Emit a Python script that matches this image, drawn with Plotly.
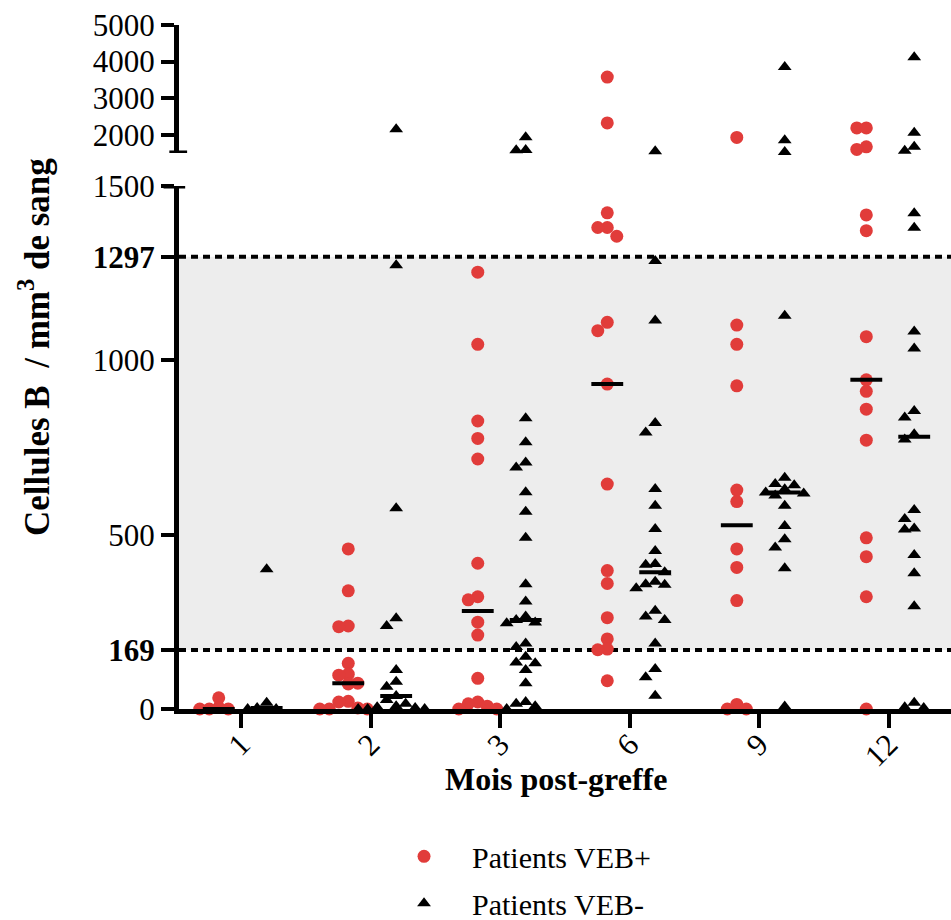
import numpy as np
import plotly.graph_objects as go

# Months after transplant (x categories)
months = ["1", "2", "3", "6", "9", "12"]

# B cells / mm3 of blood, EBV-positive patients, per month
pos_m1 = [32, 4, 0, 0, 0]
pos_m2 = [459, 339, 238, 236, 131, 100, 97, 74, 72, 22, 20, 3, 0, 0, 0]
pos_m3 = [1253, 1046, 826, 776, 717, 418, 322, 313, 249, 212, 88, 20, 15, 8, 0, 0]
pos_m6 = [3576, 2322, 1423, 1381, 1381, 1356, 1109, 1085, 932, 645, 397, 360,
          262, 201, 172, 170, 81]
pos_m9 = [1924, 1101, 1046, 927, 628, 595, 459, 406, 311, 13, 0, 0]
pos_m12 = [2185, 2185, 1667, 1596, 1417, 1372, 1068, 944, 911, 860, 771, 491,
           437, 322, 0]

# B cells / mm3 of blood, EBV-negative patients, per month
neg_m1 = [401, 18, 3, 0, 0]
neg_m2 = [2150, 1273, 576, 260, 238, 112, 78, 64, 37, 26, 15, 8, 5, 3, 0, 0, 0]
neg_m3 = [1930, 1580, 1575, 834, 765, 707, 693, 622, 566, 491, 358, 308, 265,
          255, 248, 246, 188, 178, 150, 133, 131, 112, 74, 20, 15, 8, 0]
neg_m6 = [1550, 1285, 1114, 820, 793, 631, 583, 516, 453, 416, 414, 392, 365,
          358, 356, 346, 282, 265, 255, 188, 115, 91, 38]
neg_m9 = [3850, 1850, 1530, 1128, 663, 645, 642, 630, 621, 618, 612, 583, 525,
          487, 463, 404, 7]
neg_m12 = [4120, 2050, 1667, 1560, 1422, 1380, 1083, 1034, 855, 836, 788, 773,
           571, 545, 518, 515, 442, 389, 295, 18, 5, 3]

veb_pos = [pos_m1, pos_m2, pos_m3, pos_m6, pos_m9, pos_m12]
veb_neg = [neg_m1, neg_m2, neg_m3, neg_m6, neg_m9, neg_m12]

# Reference range of normal values
normal_low = 169
normal_high = 1297

# Axis ticks
low_ticks = [0, 169, 500, 1000, 1297, 1500]
low_ticktext = ["0", "<b>169</b>", "500", "1000", "<b>1297</b>", "1500"]
high_ticks = [2000, 3000, 4000, 5000]
high_ticktext = ["2000", "3000", "4000", "5000"]

# ---------------------------------------------------------------- layout
W, H = 951, 920
M_L, M_R, M_T, M_B = 179, 0, 25, 211
PLOT_W = W - M_L - M_R
PLOT_H = H - M_T - M_B
X_RANGE = [-0.4788, 5.482]
BREAK = 1500
LOW_RANGE = [0, BREAK]
HIGH_RANGE = [BREAK, 5000]
LOW_DOM = [0.0, 0.7646]
HIGH_DOM = [0.8129, 1.0]

RED = "#E13C3A"
FONT = "Liberation Serif"

px_per_x = PLOT_W / (X_RANGE[1] - X_RANGE[0])


def value_to_px(v):
    """Vertical pixel position (from the plot bottom) of a value on the broken axis."""
    if v <= BREAK:
        frac = (v - LOW_RANGE[0]) / (LOW_RANGE[1] - LOW_RANGE[0])
        return (LOW_DOM[0] + frac * (LOW_DOM[1] - LOW_DOM[0])) * PLOT_H
    frac = (v - HIGH_RANGE[0]) / (HIGH_RANGE[1] - HIGH_RANGE[0])
    return (HIGH_DOM[0] + frac * (HIGH_DOM[1] - HIGH_DOM[0])) * PLOT_H


def column_scatter(values, center, step_px=9.5, min_dist=9.5):
    """Spread points of one column sideways so that markers do not pile up."""
    order = np.argsort(values)[::-1]
    placed = []
    xs = np.zeros(len(values))
    for i in order:
        ypx = value_to_px(values[i])
        for k in [0, -1, 1, -2, 2, -3, 3, -4, 4]:
            xpx = k * step_px
            if all(np.hypot(xpx - px, ypx - py) >= min_dist for px, py in placed):
                break
        placed.append((xpx, ypx))
        xs[i] = center + xpx / px_per_x
    return xs


def build_traces(groups, offset, name, color, symbol, size):
    xl, yl, xh, yh, mx, my = [], [], [], [], [], []
    for idx, vals in enumerate(groups):
        center = idx + offset
        xs = column_scatter(vals, center)
        for x, v in zip(xs, vals):
            if v <= BREAK:
                xl.append(x)
                yl.append(v)
            else:
                xh.append(x)
                yh.append(v)
        med = float(np.median(vals))
        mx += [center - 0.123, center + 0.123, None]
        my += [med, med, None]
    marker = dict(color=color, symbol=symbol, size=size, line=dict(width=0))
    low = go.Scatter(x=xl, y=yl, mode="markers", marker=marker, name=name,
                     xaxis="x", yaxis="y", cliponaxis=False, showlegend=True,
                     legendgroup=name)
    high = go.Scatter(x=xh, y=yh, mode="markers", marker=marker, name=name,
                      xaxis="x", yaxis="y2", cliponaxis=False, showlegend=False,
                      legendgroup=name)
    med = go.Scatter(x=mx, y=my, mode="lines", line=dict(color="black", width=4),
                     xaxis="x", yaxis="y", showlegend=False, hoverinfo="skip",
                     cliponaxis=False)
    return [low, high], med


pos_traces, pos_med = build_traces(veb_pos, -0.172, "Patients VEB+", RED, "circle", 13)
neg_traces, neg_med = build_traces(veb_neg, 0.198, "Patients VEB-", "black", "triangle-up", 12)

fig = go.Figure(pos_traces + neg_traces + [pos_med, neg_med])

axis_common = dict(showline=True, linewidth=5, linecolor="black", ticks="outside",
                   tickwidth=4, tickcolor="black", showgrid=False, zeroline=False,
                   automargin=False,
                   tickfont=dict(family=FONT, size=31, color="black"))

fig.update_layout(
    width=W, height=H,
    margin=dict(l=M_L, r=M_R, t=M_T, b=M_B, autoexpand=False),
    paper_bgcolor="white", plot_bgcolor="white",
    font=dict(family=FONT, color="black"),
    xaxis=dict(range=X_RANGE, tickvals=list(range(len(months))), ticktext=months,
               tickangle=-45, ticklen=14, ticklabelstandoff=-14, anchor="y",
               **axis_common),
    yaxis=dict(domain=LOW_DOM, range=LOW_RANGE, tickvals=low_ticks,
               ticktext=low_ticktext, ticklen=13, anchor="x", **axis_common),
    yaxis2=dict(domain=HIGH_DOM, range=HIGH_RANGE, tickvals=high_ticks,
                ticktext=high_ticktext, ticklen=13, anchor="x", **axis_common),
    legend=dict(xref="container", yref="container", x=0.3954, y=0.0975,
                xanchor="left", yanchor="top",
                font=dict(family=FONT, size=30, color="black"),
                itemwidth=86, tracegroupgap=5, bgcolor="rgba(0,0,0,0)"),
    showlegend=True,
)

# Shaded normal range and its dotted limits
fig.add_shape(type="rect", xref="paper", yref="y", x0=0, x1=1,
              y0=normal_low, y1=normal_high, fillcolor="#EDEDED",
              line=dict(width=0), layer="below")
for lim in (normal_low, normal_high):
    fig.add_shape(type="line", xref="paper", yref="y", x0=0, x1=1, y0=lim, y1=lim,
                  line=dict(color="black", width=4, dash="7px,5px"), layer="below")

# End caps of the two axis segments on either side of the break
fig.add_shape(type="line", xref="paper", yref="y2", x0=-0.0125, x1=0.0105,
              y0=BREAK, y1=BREAK, line=dict(color="black", width=5))
fig.add_shape(type="line", xref="paper", yref="y", x0=-0.02, x1=0.008,
              y0=BREAK, y1=BREAK, line=dict(color="black", width=5))

# Axis titles
fig.add_annotation(text="<b>Cellules B  / mm<sup>3</sup> de sang</b>", textangle=-90,
                   xref="paper", yref="paper", x=(35 - M_L) / PLOT_W,
                   y=(H - M_B - 347) / PLOT_H, xanchor="center", yanchor="middle",
                   showarrow=False, font=dict(family=FONT, size=35, color="black"))
fig.add_annotation(text="<b>Mois post-greffe</b>", xref="paper", yref="paper",
                   x=(556 - M_L) / PLOT_W, y=(H - M_B - 779) / PLOT_H,
                   xanchor="center", yanchor="middle",
                   showarrow=False, font=dict(family=FONT, size=32, color="black"))

fig.write_html("out.html")
